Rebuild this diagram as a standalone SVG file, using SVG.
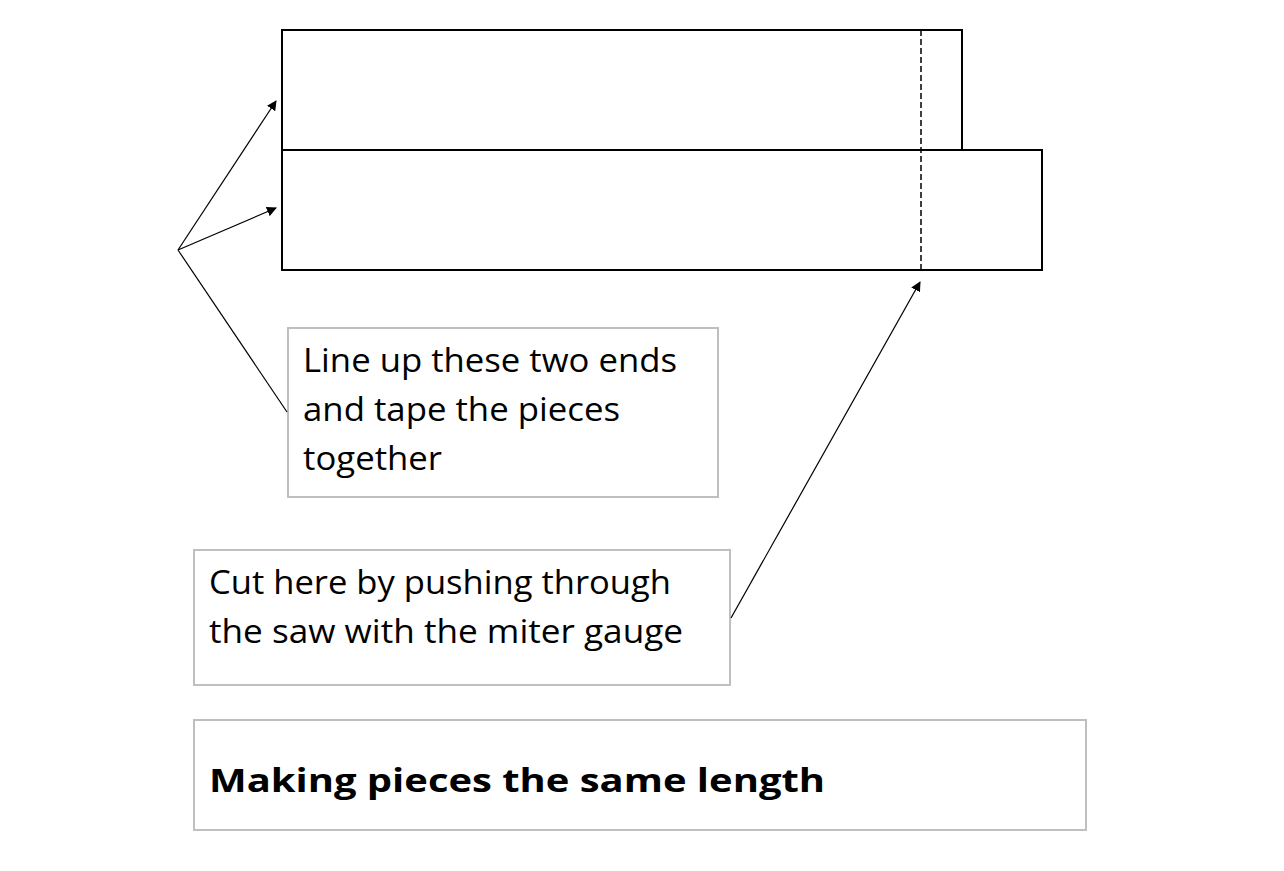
<svg xmlns="http://www.w3.org/2000/svg" width="1284" height="871" viewBox="0 0 1284 871">
<style>
.board{fill:none;stroke:#000;stroke-width:2}
.box{fill:#fff;stroke:#bfbfbf;stroke-width:2}
.t{font-family:"Open Sans","Liberation Sans",sans-serif;font-size:32px;fill:#000}
.c{stroke:#000;stroke-width:1.2;fill:none}
</style>
<defs><marker id="a" markerWidth="10" markerHeight="10" refX="9" refY="5" orient="auto" markerUnits="userSpaceOnUse"><path d="M0,0L10,5L0,10z" fill="#000"/></marker></defs>
<rect width="1284" height="871" fill="#fff"/>
<g id="board-top"><rect class="board" x="282" y="30" width="680" height="120"/></g>
<g id="board-bottom"><rect class="board" x="282" y="150" width="760" height="120"/></g>
<g id="cut-line"><line x1="921" y1="30" x2="921" y2="270" stroke="#000" stroke-width="1.5" stroke-dasharray="6,3"/></g>
<g id="label-lineup"><rect class="box" x="288" y="328" width="430" height="169"/>
<text class="t" x="303" y="372" textLength="374" lengthAdjust="spacingAndGlyphs">Line up these two ends</text>
<text class="t" x="303" y="421" textLength="317" lengthAdjust="spacingAndGlyphs">and tape the pieces</text>
<text class="t" x="303" y="470" textLength="139" lengthAdjust="spacingAndGlyphs">together</text></g>
<g id="label-cut"><rect class="box" x="194" y="550" width="536" height="135"/>
<text class="t" x="209" y="594" textLength="462" lengthAdjust="spacingAndGlyphs">Cut here by pushing through</text>
<text class="t" x="209" y="643" textLength="474" lengthAdjust="spacingAndGlyphs">the saw with the miter gauge</text></g>
<g id="title"><rect class="box" x="194" y="720" width="892" height="110"/>
<text class="t" x="209" y="792" font-weight="bold" font-size="46" textLength="616" lengthAdjust="spacingAndGlyphs">Making pieces the same length</text></g>
<g id="connectors">
<line class="c" x1="178" y1="250" x2="276" y2="101" marker-end="url(#a)"/>
<line class="c" x1="178" y1="250" x2="276" y2="208" marker-end="url(#a)"/>
<line class="c" x1="178" y1="250" x2="287" y2="412"/>
<line class="c" x1="731" y1="618" x2="920" y2="282" marker-end="url(#a)"/>
</g>
</svg>
